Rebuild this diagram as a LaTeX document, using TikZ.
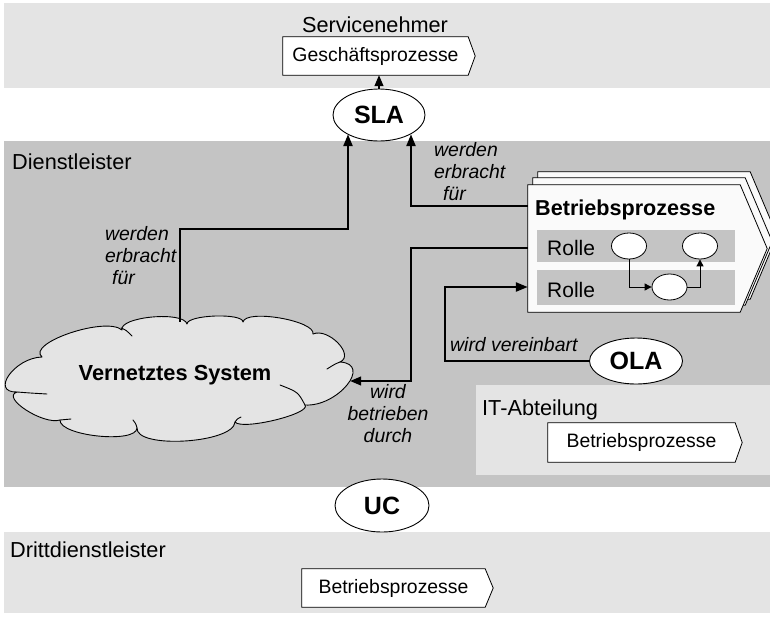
\documentclass[tikz,border=0pt]{standalone}
\usepackage{fontspec}
\setmainfont{Liberation Sans}
\usetikzlibrary{arrows.meta,shapes.geometric,calc}
\definecolor{lightband}{HTML}{E4E4E4}
\definecolor{darkband}{HTML}{C4C4C4}
\definecolor{boxwhite}{HTML}{FAFAFA}
\pgfdeclarelayer{bands}
\pgfdeclarelayer{boxes}
\pgfsetlayers{bands,boxes,main}
\begin{document}
\begin{tikzpicture}[x=1pt,y=-1pt,
  rlabel/.style={font=\fontsize{21.7}{24}\selectfont,inner sep=0,anchor=base west},
  ital/.style={font=\fontsize{19.4}{21.7}\selectfont\itshape,inner sep=0},
  procbox/.style={rectangle,inner sep=0,font=\fontsize{19.4}{22}\selectfont},
  agree/.style={ellipse,draw,line width=0.9pt,fill=white,inner sep=0,font=\fontsize{25}{28}\selectfont\bfseries},
  lane/.style={rectangle,fill=darkband,inner sep=0},
  task/.style={ellipse,draw,line width=0.8pt,fill=white,inner sep=0,minimum width=35pt,minimum height=26pt},
  outline/.style={draw,line width=0.8pt,fill=white},
  cloudline/.style={draw,line width=0.9pt,line join=round,line cap=round},
  thickarrow/.style={line width=2.4pt,-{Triangle[length=12pt,width=9pt]}},
  thinarrow/.style={line width=1.3pt,-{Triangle[length=11pt,width=9pt]}},
  smallarrow/.style={line width=0.9pt,-{Triangle[length=7pt,width=7pt]}},
]
\useasboundingbox (0,0) rectangle (770,616);
\clip (0,0) rectangle (770,616);
\def\pentagon#1#2#3{($(#1.north west)+(#2)$) -- ($(#1.north east)+(#2)$) -- ($(#1.east)+(#2)+(#3,0)$) -- ($(#1.south east)+(#2)$) -- ($(#1.south west)+(#2)$) -- cycle}

% bands
\begin{pgfonlayer}{bands}
\fill[lightband] (4,3) rectangle (770,88);
\fill[darkband] (4,141) rectangle (770,487);
\fill[lightband] (476,385) rectangle (770,475);
\fill[lightband] (4,532) rectangle (770,613);
\end{pgfonlayer}

% region labels
\node[rlabel,anchor=base] (servn) at (375,32) {Servicenehmer};
\node[rlabel] (dienst) at (12,169) {Dienstleister};
\node[rlabel] (itab) at (482,415) {IT-Abteilung};
\node[rlabel] (dritt) at (10,557) {Drittdienstleister};

% process boxes
\node[procbox,minimum width=185pt,minimum height=38pt] (gp) at (375.5,56) {Geschäftsprozesse};
\node[procbox,minimum width=187pt,minimum height=39pt] (itbp) at (641.5,442.5) {Betriebsprozesse};
\node[procbox,minimum width=183pt,minimum height=38pt] (drbp) at (393.5,588) {Betriebsprozesse};
\node[rectangle,inner sep=0,minimum width=212pt,minimum height=127pt] (bp) at (634,248.5) {};
\begin{pgfonlayer}{boxes}
\draw[outline] \pentagon{gp}{0,0}{7};
\draw[outline] \pentagon{itbp}{0,0}{7};
\draw[outline] \pentagon{drbp}{0,0}{8};
\draw[outline,fill=boxwhite] \pentagon{bp}{10,-13}{27};
\draw[outline,fill=boxwhite] \pentagon{bp}{5,-7}{27};
\draw[outline,fill=boxwhite] \pentagon{bp}{0,0}{27};
\end{pgfonlayer}

% inside Betriebsprozesse
\node[inner sep=0,anchor=base west,font=\fontsize{21.6}{24}\selectfont\bfseries] (bptitle) at (535,215) {Betriebsprozesse};
\node[lane,minimum width=198pt,minimum height=32pt] (lane1) at (636,246) {};
\node[lane,minimum width=198pt,minimum height=35pt] (lane2) at (636,287.5) {};
\node[inner sep=0,anchor=base west,font=\fontsize{21}{24}\selectfont] (rolle1) at (547,255) {Rolle};
\node[inner sep=0,anchor=base west,font=\fontsize{21}{24}\selectfont] (rolle2) at (547,297) {Rolle};
\node[task] (e1) at (629,246) {};
\node[task] (e2) at (700,246) {};
\node[task] (e3) at (669.5,287) {};
\draw[smallarrow] (e1.south) |- (e3.west);
\draw[smallarrow] (e3.east) -| (e2.south);

% cloud
\node[ellipse,inner sep=0,minimum width=342pt,minimum height=118pt] (cloud) at (179,381) {};
\path[cloudline,fill=lightband]
  (42,357) .. controls (26,343) and (106,316) .. (122,330)
  .. controls (118.7,316.7) and (183.7,310.7) .. (187,324)
  .. controls (187,314.7) and (243,312.7) .. (243,322)
  .. controls (245.7,308.7) and (315.7,320.7) .. (313,334)
  .. controls (328.3,327.3) and (355.3,355.3) .. (340,362)
  .. controls (372.7,364) and (337.7,407) .. (305,405)
  .. controls (311.7,413.7) and (241.7,430.7) .. (235,422)
  .. controls (233.7,443.3) and (135.7,449.3) .. (137,428)
  .. controls (136.3,444) and (59.3,436) .. (60,420)
  .. controls (43.3,425.3) and (0.3,397.3) .. (17,392)
  .. controls (-10.3,392.7) and (14.7,357.7) .. (42,357) -- cycle;
\draw[cloudline] (121,328) .. controls (126,330) .. (132,336);
\draw[cloudline] (340,362) .. controls (335,364) .. (327,369);
\draw[cloudline] (305,405) .. controls (298,392) .. (280,385);
\draw[cloudline] (17,392) .. controls (30,393) .. (47,394);
\draw[cloudline] (60,420) .. controls (65,419) .. (71,419);
\draw[cloudline] (137,428) .. controls (136,424) .. (133,420);
\draw[cloudline] (235,422) .. controls (237,419) .. (241,417);
\node[inner sep=0,anchor=base,font=\fontsize{21.8}{24}\selectfont\bfseries] (vs) at (175,380) {Vernetztes System};

% agreements
\node[agree,minimum width=92pt,minimum height=52pt] (sla) at (379,115) {SLA};
\node[agree,minimum width=93pt,minimum height=46pt] (ola) at (636,361) {OLA};
\node[agree,minimum width=94pt,minimum height=53pt] (uc) at (382,505.5) {UC};

% connectors
\coordinate (j0) at (180,0);
\coordinate (j1) at (348,229);
\coordinate (j2) at (411,206);
\coordinate (j3) at (411,248);
\coordinate (j4) at (445,287);
\draw[thinarrow] (sla.north) -- (sla.north |- gp.south);
\draw[thickarrow] (cloud.north -| j0) |- (j1) -- (j1 |- sla.211.8);
\draw[thickarrow] (bp.west |- j2) -- (j2) -- (j2 |- sla.329.7);
\draw[thinarrow] (bp.west |- j3) -- (j3) |- (cloud.east);
\draw[thickarrow] (ola.west) -| (j4) -- (bp.west |- j4);

% labels
\node[ital,anchor=base west,align=left] (l1) at (105,284) {werden\\erbracht\\\hspace*{7pt}für};
\node[ital,anchor=base west,align=left] (l2) at (434,200) {werden\\erbracht\\\hspace*{9pt}für};
\node[ital,anchor=base,align=center] (l3) at (388,442) {wird\\betrieben\\durch};
\node[ital,anchor=base west] (l4) at (450,351) {wird vereinbart};
\end{tikzpicture}
\end{document}
